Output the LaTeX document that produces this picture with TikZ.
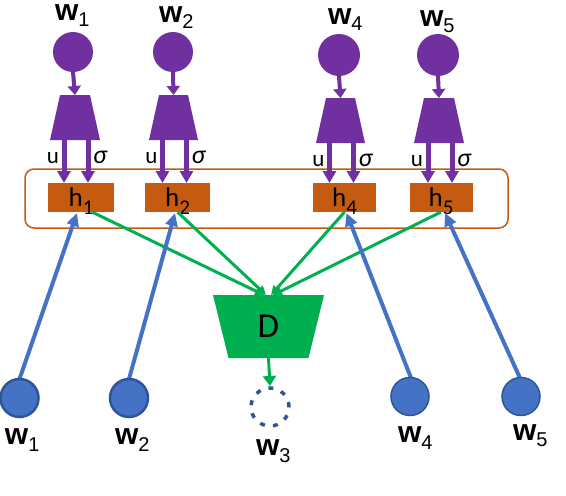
\documentclass[tikz,border=0pt]{standalone}
\usepackage{fontspec}
\setmainfont{Liberation Sans}
\newfontfamily\calfont{Carlito}
\usetikzlibrary{arrows.meta,calc}
\definecolor{ppl}{HTML}{7030A0}
\definecolor{org}{HTML}{C55A11}
\definecolor{grn}{HTML}{00B050}
\definecolor{blu}{HTML}{4472C4}
\definecolor{dblu}{HTML}{2F5597}
\newcommand{\wl}[2][7pt]{{\bfseries\fontsize{30}{30}\selectfont w}\raisebox{-#1}{\fontsize{20}{20}\selectfont #2}}
\newcommand{\hl}[1]{{\calfont\fontsize{27}{27}\selectfont h\smash{\raisebox{-8pt}{\fontsize{21}{21}\selectfont #1}}}}
\begin{document}
\begin{tikzpicture}[x=1pt,y=-1pt,
  pcirc/.style={circle,fill=ppl,inner sep=0,outer sep=0,minimum size=40pt},
  tbox/.style={rectangle,inner sep=0,outer sep=0,minimum width=50pt,minimum height=45pt},
  hbox/.style={rectangle,fill=org,inner sep=0,outer sep=0,minimum height=29pt,minimum width=64pt},
  parrow/.style={draw=ppl,line width=4pt,-{Triangle[length=9pt,width=13pt]}},
  uarrow/.style={draw=ppl,line width=5pt,-{Triangle[length=12pt,width=13pt]}},
  barrow/.style={draw=blu,line width=4pt,-{Triangle[length=13pt,width=12pt]}},
  garrow/.style={draw=grn,line width=3pt,-{Triangle[length=9pt,width=9pt]}},
  lab/.style={inner sep=0,outer sep=0,anchor=base west},
  ulab/.style={inner sep=0,outer sep=0,anchor=base east,font=\calfont\fontsize{23}{23}\selectfont},
  slab/.style={inner sep=0,outer sep=0,anchor=base west,font=\calfont\itshape\fontsize{26}{26}\selectfont},
  bcirc/.style={circle,fill=blu,draw=dblu,inner sep=0,outer sep=0,minimum size=38pt}
]
\useasboundingbox (0,0) rectangle (566,496);
\fill[white] (0,0) rectangle (566,496);

% frame
\node[draw=org,line width=1.5pt,rounded corners=9pt,minimum width=483pt,minimum height=59pt,inner sep=0] (frame) at (266.5,198.5) {};

% top labels
\node[lab] (tw1) at (55,20) {\wl[6pt]{1}};
\node[lab] (tw2) at (159,22) {\wl[6pt]{2}};
\node[lab] (tw4) at (328,24) {\wl[6pt]{4}};
\node[lab] (tw5) at (420,26) {\wl[6pt]{5}};

% purple circles
\node[pcirc] (c1) at (73,52) {};
\node[pcirc] (c2) at (173,52) {};
\node[pcirc,minimum size=42pt] (c4) at (339,55) {};
\node[pcirc,minimum size=42pt] (c5) at (438,55) {};

% trapezia (bounding boxes + fills)
\node[tbox] (t1) at (75,117.5) {};
\node[tbox,minimum width=49pt] (t2) at (173.5,117.5) {};
\node[tbox,minimum width=49pt] (t4) at (340.5,120.5) {};
\node[tbox] (t5) at (439,120.5) {};
\foreach \i in {1,2,4,5}{
  \fill[ppl] ($(t\i.north west)+(10,0)$) -- ($(t\i.north east)+(-10,0)$) -- (t\i.south east) -- (t\i.south west) -- cycle;
}

\draw[parrow] (c1.south) -- (t1.north);
\draw[parrow] (c2.south) -- (t2.north);
\draw[parrow] (c4.south) -- (t4.north);
\draw[parrow] (c5.south) -- (t5.north);

% h boxes
\node[hbox,minimum width=66pt] (h1) at (81,197.5) {\hl{1}};
\node[hbox,minimum width=65pt] (h2) at (177.5,197.5) {\hl{2}};
\node[hbox,minimum width=63pt] (h4) at (344.5,197.5) {\hl{4}};
\node[hbox,minimum width=63pt] (h5) at (441,197.5) {\hl{5}};

% u / sigma arrows
\foreach \i in {1,2,4,5}{
  \coordinate (u\i) at ($(t\i.south)+(-11,0)$);
  \coordinate (s\i) at ($(t\i.south)+(13,0)$);
  \draw[uarrow] (u\i) -- (u\i |- h\i.north);
  \draw[uarrow] (s\i) -- (s\i |- h\i.north);
  \node[ulab] (lu\i) at ($(u\i)+(-5,23)$) {u};
  \node[slab] (ls\i) at ($(s\i)+(5,23)$) {σ};
}

% D
\node[rectangle,inner sep=0,outer sep=0,minimum width=111pt,minimum height=63pt] (D) at (268.5,326.5) {};
\fill[grn] (D.north west) -- (D.north east) -- ($(D.south east)+(-15.5,0)$) -- ($(D.south west)+(15.5,0)$) -- cycle;
\node[inner sep=0,font=\calfont\fontsize{35}{35}\selectfont] (Dl) at (D) {D};

% green lines
\draw[garrow] ($(h1.south)+(11,0)$) -- ($(D.north)+(-4.5,0)$);
\draw[garrow] (h2.south) -- ($(D.north)+(-2.5,0)$);
\draw[garrow] (h4.south) -- ($(D.north)+(2.5,0)$);
\draw[garrow] (h5.south) -- ($(D.north)+(4.5,0)$);

% dashed w3
\node[circle,draw=dblu,line width=3.5pt,dash pattern=on 5pt off 8.2pt,minimum size=38pt,inner sep=0,outer sep=0] (w3c) at (270,407) {};
\draw[draw=grn,line width=3pt,-{Triangle[length=10pt,width=13pt]}] (D.south) -- ($(w3c.north)+(0,-2)$);

% bottom circles and blue arrows
\draw[barrow] (19.5,379) coordinate (b1t) -- ($(h1.south)+(-4,1)$);
\draw[barrow] (129,379) coordinate (b2t) -- ($(h2.south)+(-2.5,1)$);
\draw[barrow] (411,378) coordinate (b4t) -- ($(h4.south)+(2,1)$);
\draw[barrow] (520,378) coordinate (b5t) -- ($(h5.south)+(4,1)$);
\node[bcirc,line width=2.5pt] (b1) at (19.5,398) {};
\node[bcirc,line width=2.5pt] (b2) at (129,398) {};
\node[bcirc,line width=1.5pt] (b4) at (410,396.5) {};
\node[bcirc,line width=1.5pt] (b5) at (521,396.5) {};

% bottom labels
\node[lab] (bw1) at (5,444) {\wl{1}};
\node[lab] (bw2) at (115,444) {\wl{2}};
\node[lab] (bw3) at (256,455) {\wl{3}};
\node[lab] (bw4) at (398,442) {\wl{4}};
\node[lab] (bw5) at (513,440) {\wl[6pt]{5}};
\end{tikzpicture}
\end{document}
